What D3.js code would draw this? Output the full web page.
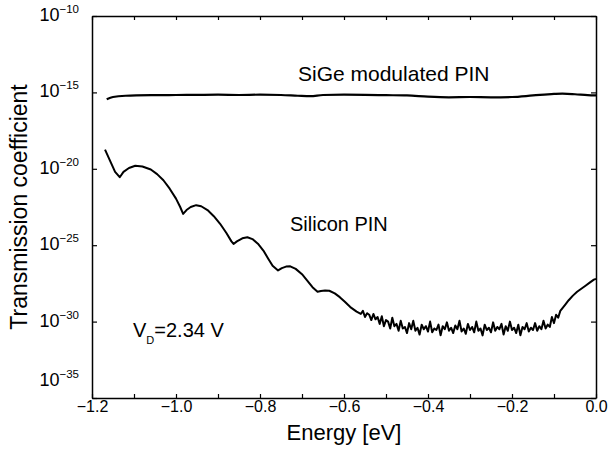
<!DOCTYPE html>
<html>
<head>
<meta charset="utf-8">
<script src="https://cdn.jsdelivr.net/npm/d3@7"></script>
<style>
  body { margin: 0; background: #fff; }
  svg { display: block; font-family: "Liberation Sans", Arial, sans-serif; }
</style>
</head>
<body>
<script>
// Values are [energy in eV, log10 of transmission coefficient]
const sigeCurve = [
  [-1.165, -15.45], [-1.15, -15.3], [-1.12, -15.22], [-1.05, -15.18],
  [-1.0, -15.17], [-0.95, -15.16], [-0.9, -15.15], [-0.85, -15.17],
  [-0.8, -15.15], [-0.75, -15.17], [-0.71, -15.22], [-0.68, -15.25],
  [-0.65, -15.17], [-0.6, -15.15], [-0.55, -15.16], [-0.5, -15.18],
  [-0.45, -15.2], [-0.4, -15.28], [-0.35, -15.32], [-0.3, -15.3],
  [-0.25, -15.32], [-0.2, -15.3], [-0.15, -15.2], [-0.1, -15.1],
  [-0.08, -15.08], [-0.05, -15.12], [-0.02, -15.18], [0.0, -15.2]
];

const siliconSmooth = [
  [-1.169, -18.75], [-1.155, -19.6], [-1.145, -20.2], [-1.134, -20.55],
  [-1.125, -20.2], [-1.112, -19.95], [-1.097, -19.8], [-1.08, -19.85],
  [-1.06, -20.05], [-1.045, -20.35], [-1.03, -20.75], [-1.015, -21.3],
  [-1.0, -21.95], [-0.99, -22.5], [-0.983, -22.95], [-0.975, -22.7],
  [-0.965, -22.5], [-0.952, -22.38], [-0.94, -22.45], [-0.925, -22.7],
  [-0.91, -23.1], [-0.895, -23.6], [-0.88, -24.2], [-0.868, -24.75],
  [-0.863, -24.92], [-0.855, -24.75], [-0.842, -24.55], [-0.83, -24.48],
  [-0.818, -24.6], [-0.805, -24.9], [-0.792, -25.35], [-0.78, -25.9],
  [-0.77, -26.35], [-0.757, -26.65], [-0.748, -26.5], [-0.738, -26.4],
  [-0.728, -26.38], [-0.715, -26.55], [-0.7, -26.9], [-0.688, -27.3],
  [-0.675, -27.75], [-0.663, -28.05], [-0.655, -28.0], [-0.645, -27.96],
  [-0.635, -27.98], [-0.622, -28.15], [-0.61, -28.4], [-0.598, -28.7],
  [-0.585, -29.05], [-0.57, -29.35], [-0.56, -29.5]
];

const siliconNoisy = [
  [-0.555, -29.3], [-0.55, -29.7], [-0.545, -29.45], [-0.54, -29.55],
  [-0.535, -29.9], [-0.53, -29.5], [-0.525, -29.85], [-0.52, -29.7],
  [-0.515, -30.15], [-0.51, -29.65], [-0.505, -30.3], [-0.5, -29.9],
  [-0.495, -30.0], [-0.49, -30.45], [-0.485, -29.75], [-0.48, -30.3],
  [-0.475, -30.15], [-0.47, -30.6], [-0.465, -29.95], [-0.46, -30.45],
  [-0.455, -30.35], [-0.45, -30.75], [-0.445, -30.1], [-0.44, -30.5],
  [-0.435, -29.95], [-0.43, -30.6], [-0.425, -30.4], [-0.42, -30.85],
  [-0.415, -30.2], [-0.41, -30.5], [-0.405, -30.3], [-0.4, -30.65],
  [-0.395, -30.0], [-0.39, -30.7], [-0.385, -30.45], [-0.38, -30.55],
  [-0.375, -30.2], [-0.37, -30.9], [-0.365, -30.3], [-0.36, -30.5],
  [-0.355, -30.05], [-0.35, -30.6], [-0.345, -30.4], [-0.34, -30.75],
  [-0.335, -30.25], [-0.33, -30.5], [-0.325, -29.95], [-0.32, -30.65],
  [-0.315, -30.45], [-0.31, -30.8], [-0.305, -30.15], [-0.3, -30.55],
  [-0.295, -30.35], [-0.29, -30.7], [-0.285, -30.0], [-0.28, -30.6],
  [-0.275, -30.45], [-0.27, -30.9], [-0.265, -30.2], [-0.26, -30.55],
  [-0.255, -30.4], [-0.25, -30.7], [-0.245, -30.05], [-0.24, -30.6],
  [-0.235, -30.35], [-0.23, -30.5], [-0.225, -30.15], [-0.22, -30.85],
  [-0.215, -30.3], [-0.21, -30.6], [-0.205, -30.0], [-0.2, -30.55],
  [-0.195, -30.4], [-0.19, -30.75], [-0.185, -30.2], [-0.18, -30.9],
  [-0.175, -30.35], [-0.17, -30.5], [-0.165, -30.1], [-0.16, -30.65],
  [-0.155, -30.4], [-0.15, -30.55], [-0.145, -30.1], [-0.14, -30.6],
  [-0.135, -30.3], [-0.13, -30.5], [-0.125, -29.95], [-0.12, -30.45],
  [-0.115, -30.2], [-0.11, -30.35], [-0.105, -29.7], [-0.1, -30.1],
  [-0.095, -29.55], [-0.09, -29.75]
];

const siliconRise = [
  [-0.085, -29.3], [-0.075, -28.95], [-0.065, -28.6], [-0.055, -28.3],
  [-0.045, -28.05], [-0.035, -27.85], [-0.025, -27.65], [-0.015, -27.45],
  [-0.005, -27.25], [0.0, -27.2]
];

const xTickValues = [-1.2, -1.1, -1.0, -0.9, -0.8, -0.7, -0.6, -0.5, -0.4, -0.3, -0.2, -0.1, 0.0];
const xTickLabels = ['\u22121.2', '\u22121.0', '\u22120.8', '\u22120.6', '\u22120.4', '\u22120.2', '0.0'];
const yTickExponents = [-35, -30, -25, -20, -15, -10];

const width = 608;
const height = 449;
const margin = {top: 16, right: 12, bottom: 51, left: 92};

const x = d3.scaleLinear().domain([-1.2, 0]).range([margin.left, width - margin.right]);
const y = d3.scaleLog().domain([1e-35, 1e-10]).range([height - margin.bottom, margin.top]);

const svg = d3.select('body')
    .append('svg')
    .attr('width', width)
    .attr('height', height);

svg.append('rect')
    .attr('width', width)
    .attr('height', height)
    .attr('fill', '#fff');

// Bottom and top axes, ticks pointing inward
const xAxis = d3.axisBottom(x)
    .tickValues(xTickValues)
    .tickSizeInner(-4)
    .tickSizeOuter(0)
    .tickFormat((d, i) => i % 2 === 0 ? xTickLabels[i / 2] : '');

const gx = svg.append('g')
    .attr('transform', `translate(0,${height - margin.bottom})`)
    .call(xAxis);
gx.selectAll('text')
    .attr('y', 3)
    .attr('dy', '0.71em')
    .attr('font-size', 16)
    .attr('font-family', '"Liberation Sans", Arial, sans-serif')
    .attr('fill', '#000');

svg.append('g')
    .attr('transform', `translate(0,${margin.top})`)
    .call(d3.axisTop(x).tickValues(xTickValues).tickSizeInner(-4).tickSizeOuter(0).tickFormat(''));

// Left and right axes
svg.append('g')
    .attr('transform', `translate(${margin.left},0)`)
    .call(d3.axisLeft(y)
        .tickValues(yTickExponents.map(e => Math.pow(10, e)))
        .tickSizeInner(-5)
        .tickSizeOuter(0)
        .tickFormat(''));

svg.append('g')
    .attr('transform', `translate(${width - margin.right},0)`)
    .call(d3.axisRight(y)
        .tickValues(yTickExponents.map(e => Math.pow(10, e)))
        .tickSizeInner(-5)
        .tickSizeOuter(0)
        .tickFormat(''));

svg.selectAll('.domain').attr('stroke', '#000').attr('stroke-width', 1.5);
svg.selectAll('.tick line').attr('stroke', '#000').attr('stroke-width', 1.2);

// y tick labels as 10 with superscript exponent
const yLabels = svg.append('g')
    .selectAll('text')
    .data(yTickExponents)
    .join('text')
    .attr('x', 79)
    .attr('y', d => y(Math.pow(10, d)) + (d === -35 ? -12 : 5))
    .attr('text-anchor', 'end')
    .attr('font-size', 18)
    .attr('fill', '#000');
yLabels.append('tspan').text('10');
yLabels.append('tspan')
    .attr('dy', -8)
    .attr('font-size', 11.5)
    .text(d => '\u2212' + Math.abs(d));

// Curves
const line = d3.line()
    .x(d => x(d[0]))
    .y(d => y(Math.pow(10, d[1])));

svg.append('path')
    .datum(sigeCurve)
    .attr('fill', 'none')
    .attr('stroke', '#000')
    .attr('stroke-width', 2.2)
    .attr('stroke-linejoin', 'round')
    .attr('d', line.curve(d3.curveMonotoneX));

svg.append('path')
    .datum(siliconSmooth.concat(siliconNoisy, siliconRise))
    .attr('fill', 'none')
    .attr('stroke', '#000')
    .attr('stroke-width', 2)
    .attr('stroke-linejoin', 'round')
    .attr('d', line.curve(d3.curveLinear));

// Axis titles
svg.append('text')
    .attr('x', (margin.left + width - margin.right) / 2)
    .attr('y', 440)
    .attr('text-anchor', 'middle')
    .attr('font-size', 22)
    .text('Energy [eV]');

svg.append('text')
    .attr('transform', `translate(27,${(margin.top + height - margin.bottom) / 2}) rotate(-90)`)
    .attr('text-anchor', 'middle')
    .attr('font-size', 23)
    .text('Transmission coefficient');

// Annotations
svg.append('text')
    .attr('x', 298)
    .attr('y', 81)
    .attr('font-size', 21)
    .text('SiGe modulated PIN');

svg.append('text')
    .attr('x', 290)
    .attr('y', 231)
    .attr('font-size', 20)
    .text('Silicon PIN');

const vd = svg.append('text')
    .attr('x', 133)
    .attr('y', 337)
    .attr('font-size', 20);
vd.append('tspan').text('V');
vd.append('tspan').attr('font-size', 11).attr('dy', 7).text('D');
vd.append('tspan').attr('dy', -7).text('=2.34 V');
</script>
</body>
</html>
